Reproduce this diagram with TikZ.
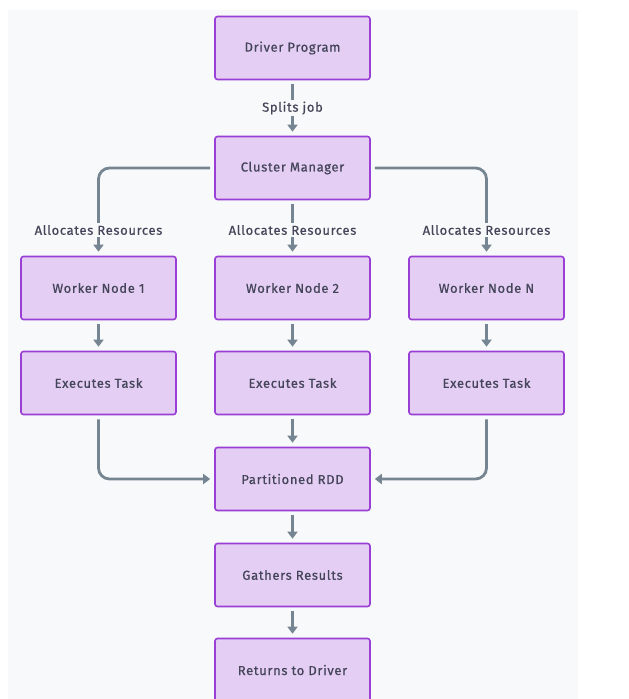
\documentclass[tikz,border=0pt]{standalone}
\usepackage{fontspec}
\setmainfont{Fira Sans}[LetterSpace=5, FakeBold=0.6]
\usetikzlibrary{arrows.meta}
\definecolor{bg}{HTML}{F8F9FA}
\definecolor{boxfill}{HTML}{E4CEF4}
\definecolor{boxdraw}{HTML}{9A3FD5}
\definecolor{edge}{HTML}{768592}
\definecolor{txt}{HTML}{45455A}
\begin{document}
\begin{tikzpicture}[x=1pt,y=-1pt,
  box/.style={draw=boxdraw, fill=boxfill, line width=1.6pt, rounded corners=2.5pt,
    minimum width=155pt, minimum height=63pt, inner sep=0pt, text=txt,
    font=\fontsize{13}{15}\selectfont},
  conn/.style={draw=edge, line width=2.8pt, -{Triangle[width=10pt,length=7pt]},
    rounded corners=11pt, shorten <=4pt, shorten >=4pt},
  lbl/.style={text=txt, fill=bg, inner sep=2pt, font=\fontsize{13}{15}\selectfont}]
\useasboundingbox (0,0) rectangle (629,699);
\fill[bg] (8,10) rectangle (578,699);
% nodes
\node[box] (dp) at (292.5,48) {Driver Program};
\node[box] (cm) at (292.5,168) {Cluster Manager};
\node[box] (w1) at (98.5,288) {Worker Node 1};
\node[box] (w2) at (292.5,288) {Worker Node 2};
\node[box] (wn) at (486.5,288) {Worker Node N};
\node[box] (e1) at (98.5,383) {Executes Task};
\node[box] (e2) at (292.5,383) {Executes Task};
\node[box] (en) at (486.5,383) {Executes Task};
\node[box] (rdd) at (292.5,479) {Partitioned RDD};
\node[box] (gr) at (292.5,575) {Gathers Results};
\node[box] (rd) at (292.5,670) {Returns to Driver};
% connectors
\draw[conn] (dp) -- (cm);
\node[lbl] (l0) at (292.5,108) {Splits job};
\draw[conn] (cm.west) -| (w1.north);
\draw[conn] (cm) -- (w2);
\draw[conn] (cm.east) -| (wn.north);
\node[lbl] (l1) at (98.5,230) {Allocates Resources};
\node[lbl] (l2) at (292.5,230) {Allocates Resources};
\node[lbl] (l3) at (486.5,230) {Allocates Resources};
\draw[conn] (w1) -- (e1);
\draw[conn] (w2) -- (e2);
\draw[conn] (wn) -- (en);
\draw[conn] (e1.south) |- (rdd.west);
\draw[conn] (e2) -- (rdd);
\draw[conn] (en.south) |- (rdd.east);
\draw[conn] (rdd) -- (gr);
\draw[conn] (gr) -- (rd);
\end{tikzpicture}
\end{document}
